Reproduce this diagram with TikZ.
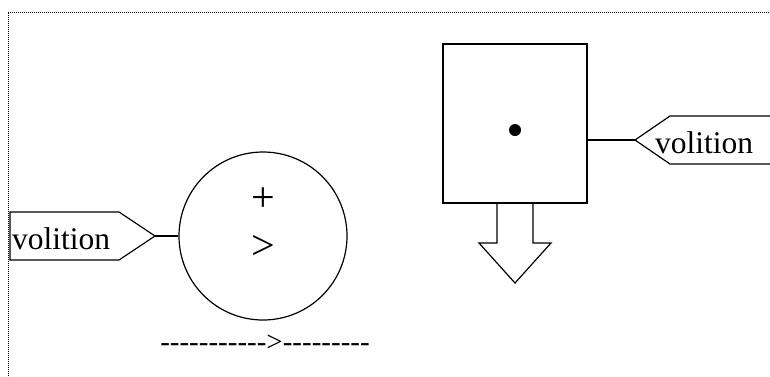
\documentclass[tikz,border=0pt]{standalone}
\usepackage{fontspec}
\setmainfont{Liberation Serif}
\newcommand\hy{-\kern0pt}
\begin{document}
\begin{tikzpicture}[x=1pt,y=-1pt,
  shp/.style={draw,line width=1.2pt},
  lbl/.style={inner sep=0pt,font=\fontsize{31.5}{36}\selectfont},
  dsh/.style={inner sep=0pt,font=\fontsize{29}{34}\selectfont},
  sym/.style={inner sep=0pt,font=\fontsize{42}{46}\selectfont},
  frame/.style={line width=0.9pt,dash pattern=on 1pt off 1pt}]
\useasboundingbox (0,0) rectangle (770,376);
% frame
\draw[frame] (8,376) -- (8,12) -- (770,12);
% left tag
\coordinate (tipL) at (155,236);
\draw[shp,line join=miter] (10,212) -- (119,212) -- (tipL) -- (119,260) -- (10,260) -- cycle;
\node[lbl,anchor=base west] (tagL) at (12,249) {volition};
% circle
\node[shp,circle,minimum size=168pt,inner sep=0pt] (circ) at (263,236) {};
\node[sym] (plus) at (263,200) {+};
\node[sym] (gt) at (263,247) {>};
\draw[shp] (tipL) -- (circ.west);
% box with arrow
\node[shp,rectangle,minimum width=144pt,minimum height=159pt,inner sep=0pt] (box) at (515,123.5) {};
\fill (515,130) circle (6pt);
\draw[shp,line join=miter] (497,203) -- (497,243) -- (479,243) -- (515,283) -- (551,243) -- (533,243) -- (533,203);
% right tag
\coordinate (tipR) at (635,140);
\draw[shp,line join=miter] (770,116) -- (670,116) -- (tipR) -- (670,164) -- (770,164);
\node[lbl,anchor=base west] (tagR) at (655,153) {volition};
\draw[shp] (box.east |- tipR) -- (tipR);
% dashed text
\node[dsh,anchor=base] (dash) at (265,351) {\hy\hy\hy\hy\hy\hy\hy\hy\hy\hy\hy>\hy\hy\hy\hy\hy\hy\hy\hy-};
\end{tikzpicture}
\end{document}
